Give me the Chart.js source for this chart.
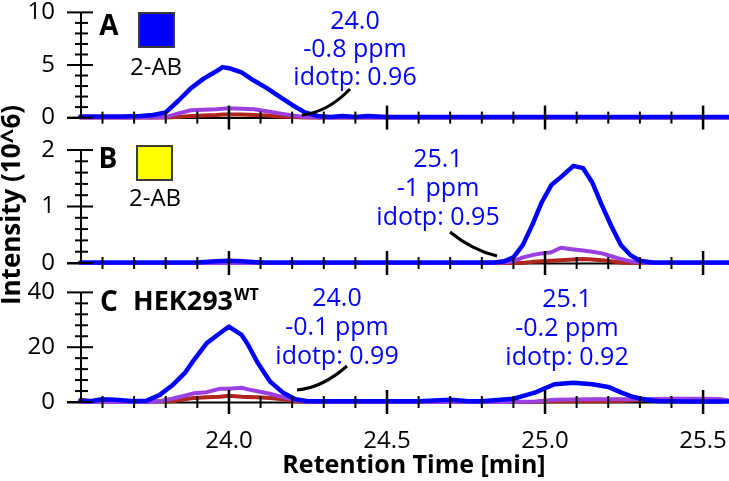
<!DOCTYPE html>
<html><head><meta charset="utf-8">
<script src="https://cdn.jsdelivr.net/npm/chart.js@4/dist/chart.umd.min.js"></script>
<style>
html,body{margin:0;padding:0;background:#fff;width:729px;height:481px;overflow:hidden;position:relative;}
canvas{position:absolute;left:0;}
</style></head><body>
<canvas id="cA" width="729" height="170" style="top:-20px"></canvas>
<canvas id="cB" width="729" height="230" style="top:90px"></canvas>
<canvas id="cC" width="729" height="221" style="top:260px"></canvas>
<script>
// ---- data (retention time in min, intensity in 10^6) ----
const tA = [23.53, 23.6, 23.66, 23.72, 23.76, 23.8, 23.84, 23.88, 23.92, 23.96, 23.98, 24.0, 24.04, 24.08, 24.12, 24.16, 24.2, 24.24, 24.28, 24.32, 24.36, 24.4, 24.44, 24.5, 24.7, 24.9, 25.1, 25.3, 25.5, 25.59];
const blueA = [0.1, 0.1, 0.1, 0.15, 0.25, 0.5, 1.6, 2.8, 3.7, 4.4, 4.8, 4.7, 4.3, 3.5, 2.8, 2.0, 1.2, 0.5, 0.15, 0.05, 0.15, 0.05, 0.15, 0.05, 0.05, 0.05, 0.05, 0.05, 0.05, 0.05];
const purpleA = [0, 0, 0, 0, 0, 0.05, 0.4, 0.7, 0.75, 0.8, 0.85, 0.9, 0.85, 0.8, 0.6, 0.4, 0.2, 0.05, 0, 0, 0, 0, 0, 0, 0, 0, 0, 0, 0, 0];
const redA = [0, 0, 0, 0, 0, 0, 0.05, 0.15, 0.2, 0.25, 0.3, 0.3, 0.3, 0.25, 0.2, 0.1, 0.05, 0, 0, 0, 0, 0, 0, 0, 0, 0, 0, 0, 0, 0];

const tB = [23.53, 23.7, 23.9, 23.96, 24.0, 24.04, 24.1, 24.3, 24.5, 24.7, 24.84, 24.87, 24.9, 24.93, 24.96, 24.99, 25.02, 25.05, 25.09, 25.12, 25.15, 25.18, 25.21, 25.24, 25.27, 25.3, 25.34, 25.4, 25.5, 25.59];
const blueB = [0.01, 0.01, 0.01, 0.03, 0.04, 0.03, 0.01, 0.01, 0.01, 0.01, 0.01, 0.03, 0.1, 0.32, 0.68, 1.08, 1.38, 1.52, 1.72, 1.68, 1.42, 1.02, 0.65, 0.32, 0.14, 0.04, 0.01, 0.01, 0.01, 0.01];
const purpleB = [0, 0, 0, 0, 0, 0, 0, 0, 0, 0, 0, 0.01, 0.03, 0.1, 0.14, 0.17, 0.19, 0.27, 0.24, 0.22, 0.2, 0.17, 0.12, 0.07, 0.03, 0.01, 0, 0, 0, 0];
const redB = [0, 0, 0, 0, 0, 0, 0, 0, 0, 0, 0, 0, 0, 0, 0.02, 0.03, 0.04, 0.05, 0.06, 0.07, 0.06, 0.05, 0.03, 0.01, 0, 0, 0, 0, 0, 0];

const tC = [23.53, 23.56, 23.6, 23.64, 23.7, 23.74, 23.78, 23.82, 23.86, 23.89, 23.93, 23.97, 24.0, 24.04, 24.06, 24.09, 24.13, 24.17, 24.21, 24.25, 24.3, 24.4, 24.5, 24.6, 24.7, 24.76, 24.8, 24.9, 24.94, 24.97, 25.0, 25.03, 25.09, 25.15, 25.2, 25.24, 25.28, 25.32, 25.36, 25.4, 25.45, 25.5, 25.55, 25.59];
const blueC = [0.5, 0.3, 1.0, 0.8, 0.3, 0.5, 2.5, 6.0, 10.5, 15.5, 21.5, 25.0, 27.5, 24.5, 21.0, 14.5, 7.5, 3.5, 1.0, 0.3, 0.3, 0.3, 0.3, 0.3, 0.8, 0.3, 0.3, 1.2, 2.5, 3.5, 5.0, 6.5, 7.0, 6.5, 5.5, 3.5, 1.8, 0.8, 0.3, 0.3, 0.2, 0.2, 0.2, 0.2];
const purpleC = [0, 0, 0, 0, 0, 0, 0.3, 1.2, 2.3, 3.2, 3.6, 4.8, 4.8, 5.2, 4.6, 3.9, 3.0, 1.8, 0.6, 0.1, 0, 0, 0, 0, 0, 0, 0, 0, 0.1, 0.2, 0.5, 0.8, 0.9, 1.0, 1.0, 1.0, 1.0, 1.1, 1.1, 1.2, 1.2, 1.2, 1.1, 0.4];
const redC = [0.8, 0.5, 0.3, 0.2, 0.2, 0.2, 0.3, 0.3, 1.0, 1.5, 1.7, 1.9, 2.3, 1.9, 1.8, 1.7, 1.5, 1.0, 0.3, 0, 0, 0, 0, 0, 0, 0, 0, 0, 0, 0, 0.2, 0.3, 0.3, 0.3, 0.3, 0.4, 0.6, 0.8, 1.0, 0.8, 0.6, 0.8, 0.5, 0.3];

// ---- tick labels and texts ----
const xTickLabels = [24.0, 24.5, 25.0, 25.5];
const yTicksA = [0, 5, 10];
const yTicksB = [0, 1, 2];
const yTicksC = [0, 20, 40];
const annA = ['24.0', '-0.8 ppm', 'idotp: 0.96'];
const annB = ['25.1', '-1 ppm', 'idotp: 0.95'];
const annC1 = ['24.0', '-0.1 ppm', 'idotp: 0.99'];
const annC2 = ['25.1', '-0.2 ppm', 'idotp: 0.92'];
const xTitle = 'Retention Time [min]';
const yTitle = 'Intensity (10^6)';

// ---- styling ----
const FONT = "'Open Sans', 'Noto Sans', sans-serif";
const BLUE = '#0000ff', PURPLE = '#9b3fe0', RED = '#b0261c';
const X_MIN = 23.532, X_MAX = 25.582;

function ds(t, v, color, w) {
  return { data: t.map((x, i) => ({ x: x, y: v[i] })), borderColor: color, borderWidth: w,
    pointRadius: 0, tension: 0, fill: false, clip: false, borderJoinStyle: 'round', borderCapStyle: 'round' };
}
function txt(ctx, s, x, y, font, color, align) {
  ctx.font = font; ctx.fillStyle = color; ctx.textAlign = align || 'center'; ctx.textBaseline = 'middle';
  ctx.fillText(s, x, y);
}
function annot(ctx, lines, x, y0, dy) {
  lines.forEach((s, i) => txt(ctx, s, x, y0 + i * dy, '25px ' + FONT, BLUE));
}
function callout(ctx, p0, c, p1) {
  ctx.beginPath(); ctx.moveTo(p0[0], p0[1]); ctx.quadraticCurveTo(c[0], c[1], p1[0], p1[1]);
  ctx.strokeStyle = '#000'; ctx.lineWidth = 3; ctx.lineCap = 'butt'; ctx.stroke();
}

function axesPlugin(cfg) {
  return {
    id: 'axes' + cfg.name,
    beforeDatasetsDraw(chart) {
      const ctx = chart.ctx, ys = chart.scales.y;
      const left = chart.chartArea.left;
      const yMax = cfg.yTicks[cfg.yTicks.length - 1];
      const y0 = ys.getPixelForValue(0), yTop = ys.getPixelForValue(yMax);
      ctx.save();
      ctx.strokeStyle = '#000'; ctx.lineCap = 'butt'; ctx.lineWidth = 2;
      ctx.beginPath(); ctx.moveTo(left - 14, y0 + 0.5); ctx.lineTo(723, y0 + 0.5); ctx.stroke();
      ctx.restore();
    },
    afterDatasetsDraw(chart) {
      const ctx = chart.ctx, xs = chart.scales.x, ys = chart.scales.y;
      const left = chart.chartArea.left;
      const ticks = cfg.yTicks;
      const yMax = ticks[ticks.length - 1];
      const y0 = ys.getPixelForValue(0), yTop = ys.getPixelForValue(yMax);
      ctx.save();
      ctx.strokeStyle = '#000'; ctx.lineCap = 'butt'; ctx.lineWidth = 2;
      ctx.beginPath(); ctx.moveTo(left, yTop); ctx.lineTo(left, y0); ctx.stroke();
      for (let k = 236; k <= 256; k++) {
        const px = xs.getPixelForValue(k / 10);
        if (px > chart.width) continue;
        const major = k % 5 === 0, h = major ? 12 : 6;
        ctx.lineWidth = major ? 2.5 : 2;
        ctx.beginPath(); ctx.moveTo(px, y0 - h); ctx.lineTo(px, y0 + h); ctx.stroke();
      }
      const n = Math.round(yMax / cfg.yMinor);
      for (let i = 0; i <= n; i++) {
        const v = i * cfg.yMinor, py = ys.getPixelForValue(v);
        const major = ticks.some(t => Math.abs(t - v) < 1e-9);
        ctx.lineWidth = 2;
        ctx.beginPath();
        if (major) { ctx.moveTo(left - 14, py); ctx.lineTo(left + 12, py); }
        else { ctx.moveTo(left - 6, py); ctx.lineTo(left + 7, py); }
        ctx.stroke();
      }
      ctx.translate(0, -cfg.top);
      cfg.decorate(ctx, xs);
      ctx.restore();
    }
  };
}

function makeChart(id, cfg, datasets, padTop, padBottom) {
  return new Chart(document.getElementById(id), {
    type: 'line',
    data: { datasets: datasets },
    options: {
      responsive: false, animation: false, events: [],
      layout: { padding: { top: padTop, bottom: padBottom, left: 0, right: 0 } },
      plugins: { legend: { display: false }, tooltip: { enabled: false } },
      scales: {
        x: { type: 'linear', min: X_MIN, max: X_MAX, display: false },
        y: {
          type: 'linear', min: 0, max: cfg.yTicks[cfg.yTicks.length - 1],
          grid: { display: false }, border: { display: false },
          afterBuildTicks: s => { s.ticks = cfg.yTicks.map(v => ({ value: v })); },
          afterFit: s => { s.width = 81; },
          ticks: { padding: 18, color: '#000', font: { family: FONT, size: 24 } },
        },
      },
    },
    plugins: [axesPlugin(cfg)],
  });
}

// Panel A
makeChart('cA', {
  name: 'A', top: -20, yTicks: yTicksA, yMinor: 1,
  decorate(ctx) {
    txt(ctx, 'A', 109, 27, 'bold 28px ' + FONT, '#000');
    ctx.fillStyle = BLUE; ctx.fillRect(139, 13, 35, 34);
    ctx.strokeStyle = '#3a3a3a'; ctx.lineWidth = 2; ctx.strokeRect(139, 13, 35, 34);
    txt(ctx, '2-AB', 156, 68, '24px ' + FONT, '#000');
    annot(ctx, annA, 355, 22, 28);
    callout(ctx, [302, 115], [328, 112], [350, 89]);
  }
}, [ds(tA, blueA, BLUE, 4.5), ds(tA, purpleA, PURPLE, 4), ds(tA, redA, RED, 4)], 31, 25);

// Panel B
makeChart('cB', {
  name: 'B', top: 90, yTicks: yTicksB, yMinor: 0.2,
  decorate(ctx) {
    txt(ctx, 'B', 108, 160, 'bold 28px ' + FONT, '#000');
    ctx.fillStyle = '#ffff00'; ctx.fillRect(137, 146, 35, 34);
    ctx.strokeStyle = '#3a3a3a'; ctx.lineWidth = 2; ctx.strokeRect(137, 146, 35, 34);
    txt(ctx, '2-AB', 155, 199, '24px ' + FONT, '#000');
    annot(ctx, annB, 438, 160, 29);
    callout(ctx, [450, 232], [472, 250], [497, 256]);
    ctx.save();
    ctx.translate(13, 205); ctx.rotate(-Math.PI / 2);
    txt(ctx, yTitle, 0, 0, 'bold 26px ' + FONT, '#000');
    ctx.restore();
  }
}, [ds(tB, blueB, BLUE, 4.5), ds(tB, purpleB, PURPLE, 4), ds(tB, redB, RED, 4)], 60, 57);

// Panel C
makeChart('cC', {
  name: 'C', top: 260, yTicks: yTicksC, yMinor: 4,
  decorate(ctx, xs) {
    txt(ctx, 'C', 109, 303, 'bold 28px ' + FONT, '#000');
    txt(ctx, 'HEK293', 133, 302, 'bold 27px ' + FONT, '#000', 'left');
    ctx.font = 'bold 27px ' + FONT;
    const w = ctx.measureText('HEK293').width;
    txt(ctx, 'WT', 133 + w + 1, 295, 'bold 16px ' + FONT, '#000', 'left');
    annot(ctx, annC1, 337, 299, 29);
    annot(ctx, annC2, 567, 300, 29);
    callout(ctx, [297, 390], [322, 388], [347, 366]);
    xTickLabels.forEach(v => txt(ctx, v.toFixed(1), xs.getPixelForValue(v), 441, '24px ' + FONT, '#000'));
    txt(ctx, xTitle, 414, 466, 'bold 25px ' + FONT, '#000');
  }
}, [ds(tC, blueC, BLUE, 4.5), ds(tC, purpleC, PURPLE, 4), ds(tC, redC, RED, 4)], 28, 79);
</script>
</body></html>
